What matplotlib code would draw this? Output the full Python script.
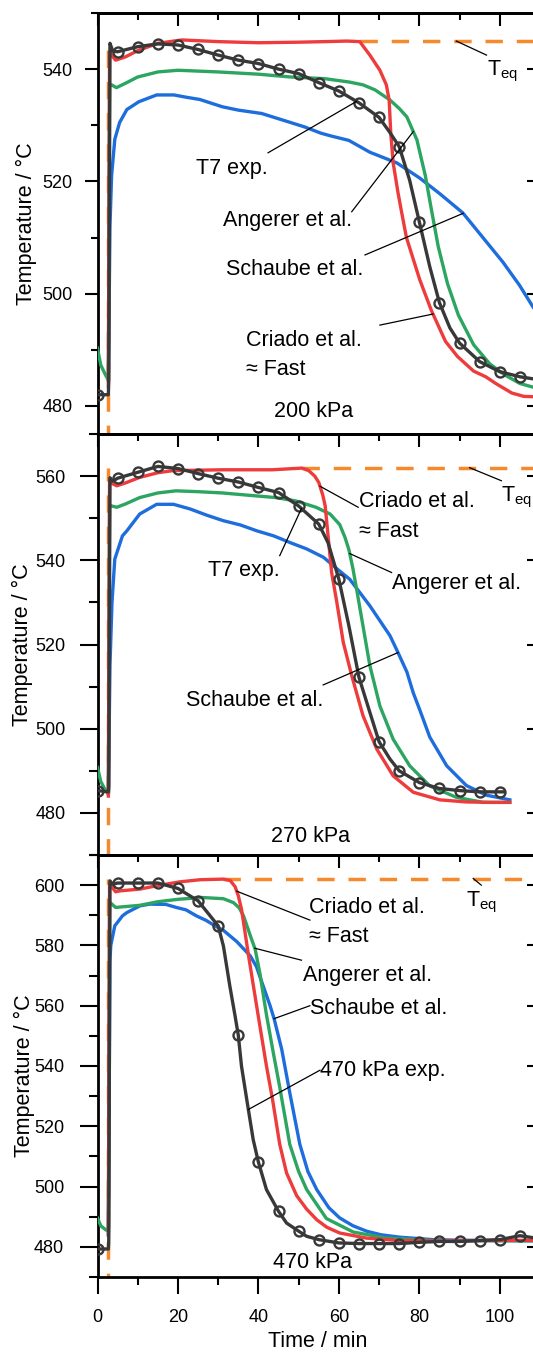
import numpy as np
import matplotlib.pyplot as plt
from matplotlib.ticker import MultipleLocator

plt.rcParams['font.family'] = ['Liberation Sans', 'DejaVu Sans']
plt.rcParams['mathtext.fontset'] = 'custom'
plt.rcParams['mathtext.rm'] = 'Liberation Sans'
plt.rcParams['mathtext.default'] = 'regular'

# time of the pressure step (min)
t_step = 2.7

# ---------------- 200 kPa ----------------
t_exp_200 = [0, 2.7, 2.8, 3.1, 3.8, 5, 10, 15, 20, 25, 30, 35, 40, 45, 50, 55, 60, 65, 70, 72.7,
             75, 77.6, 80, 82.6, 85, 87.6, 90, 95, 100, 105, 108.5]
T_exp_200 = [482.0, 482.0, 484.6, 544.6, 543.2, 543.1, 544.0, 544.5, 544.3, 543.5, 542.5, 541.6,
             541.0, 540.0, 539.2, 537.6, 536.1, 534.0, 531.4, 528.7, 526.2, 520.2, 512.8, 504.8,
             498.4, 493.9, 491.2, 487.9, 486.1, 485.2, 484.8]

t_criado_200 = [2.7, 3.0, 3.5, 4.5, 7, 10, 15, 21, 30, 40, 50, 56.5, 62, 65.2, 67.7, 70.2, 71.8,
                72.5, 72.9, 73.5, 74.7, 75.6, 76.8, 80.1, 83.0, 86.5, 89.5, 93.5, 96.5, 99.0,
                103.0, 106.0, 110.0]
T_criado_200 = [483.5, 543.1, 542.5, 541.6, 542.2, 543.3, 544.6, 545.2, 544.9, 544.7, 544.8, 544.9,
                545.0, 544.9, 542.5, 539.8, 537.2, 534.5, 528.6, 523.3, 518.0, 514.5, 510.0,
                502.5, 497.0, 491.5, 488.8, 486.2, 485.2, 484.0, 482.3, 481.7, 481.6]

t_angerer_200 = [0, 0.8, 2.0, 2.7, 3.0, 3.5, 4.7, 7, 10, 15, 20, 30, 40, 48, 56.5, 62.6, 66, 69,
                 72.7, 75, 76.9, 79.4, 81.5, 83.0, 84.7, 87.0, 89.7, 93.5, 97.5, 101.3, 105, 110]
T_angerer_200 = [490.3, 487.3, 485.5, 484.6, 537.3, 537.2, 536.7, 537.5, 538.6, 539.5, 539.8,
                 539.5, 539.1, 538.6, 538.3, 537.7, 537.2, 536.3, 534.5, 533.0, 531.5, 527.4,
                 521.0, 515.0, 508.4, 501.8, 496.2, 490.9, 487.5, 485.5, 484.0, 483.0]

t_schaube_200 = [2.7, 3.1, 3.5, 4.3, 5.5, 7.3, 10.3, 14.7, 19, 22, 25.4, 31, 35, 40.8, 47.5,
                 51.5, 55.5, 58, 62.5, 67.7, 74.4, 80.1, 85.1, 90.8, 95.8, 100.8, 104.9, 108.2, 110]
T_schaube_200 = [484.5, 512.0, 521.0, 527.5, 530.5, 532.8, 534.2, 535.4, 535.4, 535.0, 534.6,
                 533.3, 532.7, 532.1, 530.6, 529.7, 528.6, 528.1, 527.3, 525.2, 523.3, 520.6,
                 517.8, 514.4, 510.0, 505.6, 501.5, 497.7, 496.0]

T_eq_200 = 545.0

# ---------------- 270 kPa ----------------
t_exp_270 = [0, 2.7, 2.8, 3.1, 3.8, 5, 10, 15, 20, 25, 30, 35, 40, 45, 50, 55, 57.3, 60, 62.5,
             65, 67.7, 70, 72.7, 75, 80, 85, 90, 95, 100, 101]
T_exp_270 = [485.3, 485.0, 486.0, 559.6, 558.8, 559.5, 560.9, 562.3, 561.8, 560.6, 559.5, 558.6,
             557.3, 556.1, 552.9, 548.6, 544.2, 535.5, 524.4, 512.2, 503.9, 496.9, 492.8, 490.0,
             487.2, 485.8, 485.3, 485.0, 485.0, 485.0]

t_criado_270 = [2.7, 3.0, 3.5, 4.8, 7, 10.5, 15, 18.7, 25, 31, 43.4, 50.8, 52.5, 54, 55, 56,
                56.6, 57.4, 58.2, 59.5, 61.1, 63.2, 66, 69.4, 73.5, 78.5, 85.1, 91.7, 98.3, 102.5]
T_criado_270 = [484.0, 559.3, 558.3, 557.7, 558.4, 559.7, 560.8, 561.3, 561.4, 561.5, 561.5,
                561.9, 561.3, 560.0, 558.5, 555.5, 552.9, 545.0, 537.1, 530.0, 520.5, 512.6,
                503.1, 495.2, 488.8, 484.9, 483.1, 482.6, 482.5, 482.5]

t_angerer_270 = [0, 0.8, 2.0, 2.7, 3.0, 3.5, 4.8, 7, 10.5, 15, 19.5, 25, 31, 39.4, 44.3, 49.3,
                 54.3, 57.8, 60.2, 61.5, 62.5, 63.5, 64.4, 66, 67.7, 70.2, 73.5, 77.6, 82.6,
                 89.2, 95.9, 102.5]
T_angerer_270 = [490.8, 487.5, 485.3, 484.5, 553.1, 552.9, 552.6, 553.4, 554.9, 556.0, 556.5,
                 556.3, 556.0, 555.3, 554.9, 554.1, 552.6, 551.0, 548.5, 545.5, 542.5, 538.0,
                 533.2, 524.4, 515.0, 505.4, 497.5, 491.2, 486.4, 483.7, 482.5, 482.5]

t_schaube_270 = [2.7, 3.1, 3.6, 4.3, 6.2, 7.3, 10.5, 14.7, 18.9, 23, 27.2, 31.3, 35.5, 39.6,
                 43.8, 47.9, 52, 56.2, 59.5, 62.7, 67.7, 72.7, 74.5, 76.9, 78.5, 80.1, 82.6,
                 86.8, 91.7, 96.7, 102.5]
T_schaube_270 = [484.5, 515.0, 530.0, 540.3, 545.8, 547.0, 551.0, 553.3, 553.3, 552.2, 550.7,
                 549.4, 548.4, 547.0, 545.8, 544.2, 542.7, 540.7, 538.0, 535.5, 529.2, 522.1,
                 518.5, 513.5, 508.5, 504.5, 498.0, 491.2, 486.5, 484.2, 483.1]

T_eq_270 = 562.0

# ---------------- 470 kPa ----------------
t_exp_470 = [0, 2.7, 2.8, 3.1, 3.8, 5, 10, 15, 20, 25, 30, 31.3, 32.9, 34.2, 35, 35.8, 37.1,
             38.7, 40, 42, 45, 47, 50, 52, 55, 60, 65, 70, 75, 80, 85, 90, 95, 100, 105, 108.5]
T_exp_470 = [479.3, 479.3, 482.0, 601.4, 600.3, 600.7, 600.7, 600.7, 598.9, 594.8, 586.5, 579.8,
             566.5, 556.6, 550.2, 539.9, 528.9, 515.6, 508.1, 499.0, 491.8, 487.9, 485.2, 483.5,
             482.4, 481.3, 481.1, 481.1, 481.1, 481.5, 481.8, 481.8, 482.1, 482.4, 483.7, 483.0]

t_criado_470 = [2.7, 3.0, 3.5, 4.5, 5.6, 10.6, 14.7, 20.5, 25.5, 31.3, 33.0, 34.2, 35.0, 35.8,
                36.6, 37.5, 38.7, 40.4, 42.0, 43.5, 45.3, 47.0, 49.5, 52.0, 54.5, 57.0, 60.2,
                66.9, 75.2, 85, 110]
T_criado_470 = [484.0, 600.3, 599.5, 597.8, 598.1, 598.7, 599.8, 601.1, 601.8, 602.0, 601.5,
                599.5, 596.5, 592.0, 585.0, 577.0, 567.0, 553.0, 540.0, 529.0, 514.0, 504.5,
                497.0, 492.5, 489.0, 486.5, 484.6, 482.9, 482.1, 482.0, 482.2]

t_angerer_470 = [0, 0.8, 2.0, 2.7, 3.0, 3.5, 4.5, 7, 10.5, 15, 20, 26, 31.3, 33.8, 35.2, 36.3,
                 38.0, 39.2, 40.4, 42.0, 43.7, 45.3, 47.8, 50.0, 52.0, 56.9, 63.6, 71.9, 83.4, 110]
T_angerer_470 = [489.6, 487.0, 485.7, 485.2, 594.2, 593.8, 592.6, 592.9, 593.3, 594.5, 595.3,
                 595.9, 595.5, 594.2, 592.5, 589.8, 583.2, 578.7, 570.5, 557.0, 544.4, 533.0,
                 514.0, 505.0, 499.0, 489.4, 484.9, 482.9, 482.1, 482.0]

t_schaube_470 = [2.7, 3.1, 3.3, 4.3, 6.2, 7.3, 10.5, 13, 17, 19.6, 22, 24.6, 27, 29.6, 31.3,
                 34.6, 38.0, 39.5, 41.2, 42.9, 43.9, 45.8, 47.8, 50.3, 52.3, 54.5, 57.5, 60.2,
                 63.5, 66.9, 70.5, 75.2, 83.4, 90, 110]
T_schaube_470 = [484.0, 575.0, 580.0, 586.5, 589.8, 590.9, 593.1, 593.7, 593.6, 592.6, 591.8,
                 589.8, 588.3, 586.2, 585.0, 581.3, 576.5, 573.0, 566.5, 560.0, 555.7, 545.5,
                 531.1, 514.0, 505.0, 499.0, 493.0, 489.6, 487.0, 485.2, 484.0, 483.2, 482.4,
                 482.2, 482.0]

T_eq_470 = 602.2

pressure_labels = ['200 kPa', '270 kPa', '470 kPa']
y_limits = [(475, 550), (470, 570), (470, 610)]

c_exp = '#383838'
c_criado = '#ee3b3b'
c_angerer = '#2ba560'
c_schaube = '#1e6ddd'
c_teq = '#f5892b'

panels = [
    dict(exp=(t_exp_200, T_exp_200), criado=(t_criado_200, T_criado_200),
         angerer=(t_angerer_200, T_angerer_200), schaube=(t_schaube_200, T_schaube_200),
         teq=T_eq_200),
    dict(exp=(t_exp_270, T_exp_270), criado=(t_criado_270, T_criado_270),
         angerer=(t_angerer_270, T_angerer_270), schaube=(t_schaube_270, T_schaube_270),
         teq=T_eq_270),
    dict(exp=(t_exp_470, T_exp_470), criado=(t_criado_470, T_criado_470),
         angerer=(t_angerer_470, T_angerer_470), schaube=(t_schaube_470, T_schaube_470),
         teq=T_eq_470),
]

# labels: (text, x, y, ha, leader start (x, y) or None, series, anchor time)
labels = [
    [('T$_{eq}$', 96.8, 538.8, 'left', (96.7, 542.5), 'teq', 89.2),
     ('T7 exp.', 42.4, 521.4, 'right', (42.4, 525.1), 'exp', 64.4),
     ('Angerer et al.', 63.2, 512.0, 'right', (63.2, 514.6), 'angerer', 78.5),
     ('Schaube et al.', 66.2, 503.3, 'right', (66.5, 506.9), 'schaube', 90.9),
     ('Criado et al.', 36.9, 490.7, 'left', (70.2, 494.4), 'criado', 83.4),
     ('\u2248 Fast', 36.9, 485.5, 'left', None, None, None)],
    [('T$_{eq}$', 100.4, 554.1, 'left', (100.4, 558.9), 'teq', 92.5),
     ('Criado et al.', 65.0, 552.6, 'left', (64.8, 552.6), 'criado', 55.3),
     ('\u2248 Fast', 65.0, 545.6, 'left', None, None, None),
     ('Angerer et al.', 73.3, 533.2, 'left', (73.1, 537.1), 'angerer', 62.7),
     ('T7 exp.', 45.3, 536.3, 'right', (45.3, 541.1), 'exp', 50.7),
     ('Schaube et al.', 56.1, 505.4, 'right', (56.1, 510.4), 'schaube', 74.7)],
    [('T$_{eq}$', 91.7, 593.1, 'left', (95.4, 600.0), 'teq', 93.4),
     ('Criado et al.', 52.6, 590.9, 'left', (52.8, 588.4), 'criado', 34.6),
     ('\u2248 Fast', 52.6, 581.2, 'left', None, None, None),
     ('Angerer et al.', 51.1, 568.2, 'left', (50.7, 575.1), 'angerer', 39.1),
     ('Schaube et al.', 52.8, 557.1, 'left', (52.8, 560.0), 'schaube', 43.9),
     ('470 kPa exp.', 55.3, 536.6, 'left', (55.3, 538.6), 'exp', 37.5)],
]
pressure_pos = [(53.7, 478.1), (53.0, 473.0), (53.4, 473.0)]

W, H = 533, 1352
x_left, x_right = 97.5, 540.0
edges = [(13, 434), (434, 855), (855, 1277)]
ylabel_x = [-0.160, -0.170, -0.164]
ylabel_y = [0.5, 0.5, 0.476]
ytick_len = [(9.6, 4.8, 8.4), (13.2, 6.7, 9.6), (13.2, 6.7, 10.8)]

fig = plt.figure(figsize=(W / 100, H / 100), dpi=100)

for i, p in enumerate(panels):
    top, bottom = edges[i]
    ax = fig.add_axes([x_left / W, 1 - bottom / H, (x_right - x_left) / W, (bottom - top) / H])

    # equilibrium line: the step at t_step, then flat once the Criado curve leaves it
    t_c, T_c = np.asarray(p['criado'][0]), np.asarray(p['criado'][1])
    t_leave = t_c[T_c >= p['teq'] - 0.35].max()
    ax.plot([t_step, t_step, np.nan, t_leave, 110], [440, p['teq'], np.nan, p['teq'], p['teq']],
            color=c_teq, lw=2.5, dashes=(5, 4), zorder=1)
    ax.plot(*p['schaube'], color=c_schaube, lw=2.4, zorder=2)
    ax.plot(*p['angerer'], color=c_angerer, lw=2.4, zorder=3)
    ax.plot(*p['criado'], color=c_criado, lw=2.4, zorder=4)
    t_e, T_e = p['exp']
    marks = [k for k, t in enumerate(t_e) if t % 5 == 0]
    ax.plot(t_e, T_e, color=c_exp, lw=2.4, marker='o', ms=7.2, mfc='none', mec=c_exp, mew=1.7,
            markevery=marks, zorder=5)

    for text, x, y, ha, start, key, t_anchor in labels[i]:
        ax.text(x, y, text, ha=ha, va='baseline', fontsize=15.5, zorder=6)
        if start is None:
            continue
        if key == 'teq':
            y_anchor = p['teq']
        else:
            y_anchor = np.interp(t_anchor, *p[key])
        ax.plot([start[0], t_anchor], [start[1], y_anchor], color='black', lw=0.9, zorder=6)

    px, py = pressure_pos[i]
    ax.text(px, py, pressure_labels[i], ha='center', va='baseline', fontsize=15.5)

    ax.set_xlim(0, 110)
    ax.set_ylim(*y_limits[i])
    ax.xaxis.set_major_locator(MultipleLocator(20))
    ax.xaxis.set_minor_locator(MultipleLocator(10))
    ax.yaxis.set_major_locator(MultipleLocator(20))
    ax.yaxis.set_minor_locator(MultipleLocator(10))

    last = i == len(panels) - 1
    ax.tick_params(axis='x', which='both', top=False, bottom=last, labelbottom=last,
                   direction='out', width=1.5, labelsize=13)
    ax.tick_params(axis='x', which='major', length=12.2, pad=11.0)
    ax.tick_params(axis='x', which='minor', length=5.8)
    ymaj, ymin, ypad = ytick_len[i]
    ax.tick_params(axis='y', which='both', right=False, direction='out', width=1.5,
                   labelsize=13)
    ax.tick_params(axis='y', which='major', length=ymaj, pad=ypad)
    ax.tick_params(axis='y', which='minor', length=ymin)
    for s in ax.spines.values():
        s.set_linewidth(2.0)

    top_ax = ax.secondary_xaxis('top')
    top_ax.xaxis.set_major_locator(MultipleLocator(20))
    top_ax.xaxis.set_minor_locator(MultipleLocator(10))
    top_ax.tick_params(which='both', direction='in', width=1.5, labeltop=False)
    top_ax.tick_params(which='major', length=9.4)
    top_ax.tick_params(which='minor', length=5.0)
    top_ax.spines['top'].set_linewidth(2.0)

    right_ax = ax.secondary_yaxis('right')
    right_ax.yaxis.set_major_locator(MultipleLocator(20))
    right_ax.yaxis.set_minor_locator(MultipleLocator(10))
    right_ax.tick_params(which='both', direction='in', width=1.5, labelright=False)
    right_ax.tick_params(which='major', length=9.4)
    right_ax.tick_params(which='minor', length=5.0)
    right_ax.spines['right'].set_linewidth(2.0)

    ax.set_ylabel('Temperature / \u00b0C', fontsize=15.5, va='center')
    ax.yaxis.set_label_coords(ylabel_x[i], ylabel_y[i])
    if last:
        ax.set_xlabel('Time / min', fontsize=15.5, va='center')
        ax.xaxis.set_label_coords(0.498, -0.152)

fig.savefig('out.png', dpi=100)
